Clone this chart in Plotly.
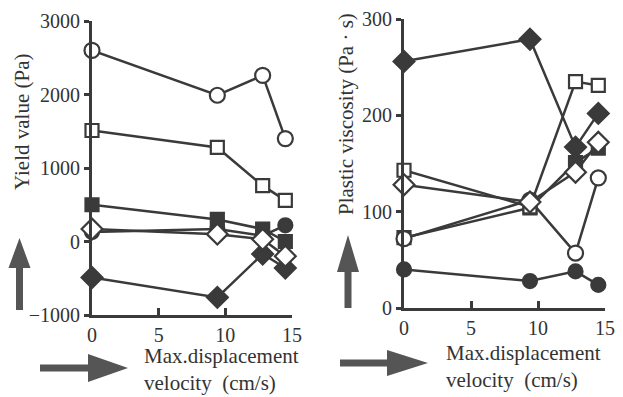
import plotly.graph_objects as go

W, H = 623, 397
OFF = 8  # page body margin

# ---- data ----
velocity = [0, 9.4, 12.8, 14.5]

yield_open_circle = [2600, 1990, 2260, 1400]
yield_open_square = [1510, 1280, 760, 560]
yield_filled_square = [500, 300, 170, 0]
yield_open_diamond = [170, 100, 30, -200]
yield_filled_circle = [130, 170, 80, 220]
yield_filled_diamond = [-490, -760, -170, -360]

visc_filled_diamond = [256, 279, 167, 202]
visc_open_square = [143, 105, 235, 231]
visc_open_diamond = [128, 110, 141, 172]
visc_open_circle = [72, 112, 57, 135]
visc_filled_square = [73, 104, 151, 166]
visc_filled_circle = [40, 28, 38, 24]

x_ticks = [0, 5, 10, 15]
yield_ticks = [-1000, 0, 1000, 2000, 3000]
visc_ticks = [0, 100, 200, 300]

DARK = "#3a3a3a"
FONT = "Liberation Serif, Times New Roman, serif"


def px(x):
    return (x - OFF) / W


def py(y):
    return 1 - (y - OFF) / H


def series(x, y, symbol, filled, size, xa, ya):
    return go.Scatter(
        x=x, y=y, mode="lines+markers", xaxis=xa, yaxis=ya,
        line=dict(color=DARK, width=2.5),
        marker=dict(symbol=symbol, size=size,
                    color=DARK if filled else "white",
                    line=dict(color=DARK, width=2.2)),
        showlegend=False, cliponaxis=False,
    )


fig = go.Figure()
# left panel
fig.add_trace(series(velocity, yield_filled_circle, "circle", True, 14, "x", "y"))
fig.add_trace(series(velocity, yield_filled_diamond, "diamond", True, 16, "x", "y"))
fig.add_trace(series(velocity, yield_filled_square, "square", True, 13, "x", "y"))
fig.add_trace(series(velocity, yield_open_diamond, "diamond", False, 16, "x", "y"))
fig.add_trace(series(velocity, yield_open_square, "square", False, 13, "x", "y"))
fig.add_trace(series(velocity, yield_open_circle, "circle", False, 15, "x", "y"))
# right panel
fig.add_trace(series(velocity, visc_filled_circle, "circle", True, 14, "x2", "y2"))
fig.add_trace(series(velocity, visc_filled_square, "square", True, 13, "x2", "y2"))
fig.add_trace(series(velocity, visc_filled_diamond, "diamond", True, 16, "x2", "y2"))
fig.add_trace(series(velocity, visc_open_square, "square", False, 13, "x2", "y2"))
fig.add_trace(series(velocity, visc_open_circle, "circle", False, 15, "x2", "y2"))
fig.add_trace(series(velocity, visc_open_diamond, "diamond", False, 16, "x2", "y2"))

tfont = dict(family=FONT, size=20, color="#333")
xax = dict(range=[0, 15], tickvals=x_ticks, showgrid=False, zeroline=False,
           showline=True, linecolor=DARK, linewidth=3, ticks="inside",
           ticklen=7, tickwidth=3, tickcolor=DARK, automargin=False,
           ticklabeloverflow="allow", tickfont=tfont)
yax = dict(showgrid=False, zeroline=False, showline=True, linecolor=DARK,
           linewidth=3, ticks="outside", ticklen=5, tickwidth=3, tickcolor=DARK,
           automargin=False, ticklabeloverflow="allow", tickfont=tfont)

fig.update_layout(
    width=W, height=H, margin=dict(l=0, r=0, t=0, b=0),
    font=dict(family=FONT, color="#333"),
    paper_bgcolor="white", plot_bgcolor="white",
    xaxis=dict(xax, domain=[px(92), px(292)], anchor="y"),
    yaxis=dict(yax, domain=[py(315), py(21)], range=[-1000, 3000],
               tickvals=yield_ticks, anchor="x"),
    xaxis2=dict(xax, domain=[px(404), px(605)], anchor="y2"),
    yaxis2=dict(yax, domain=[py(308), py(19)], range=[0, 300],
                tickvals=visc_ticks, anchor="x2"),
)

ann_font = dict(family=FONT, size=21, color="#333")
annotations = [
    dict(x=px(22), y=py(122), text="Yield value (Pa)", textangle=-90,
         xanchor="center", yanchor="middle"),
    dict(x=px(346), y=py(114), text="Plastic viscosity (Pa · s)", textangle=-90,
         xanchor="center", yanchor="middle"),
    dict(x=px(142), y=py(356), text="Max.displacement", xanchor="left", yanchor="middle"),
    dict(x=px(142), y=py(383), text="velocity  (cm/s)", xanchor="left", yanchor="middle"),
    dict(x=px(444), y=py(353), text="Max.displacement", xanchor="left", yanchor="middle"),
    dict(x=px(444), y=py(380), text="velocity  (cm/s)", xanchor="left", yanchor="middle"),
]
for a in annotations:
    a.update(xref="paper", yref="paper", showarrow=False, font=ann_font)
fig.update_layout(annotations=annotations)


def up_arrow(cx, tip, base, bottom, hw, sw):
    return [(cx, tip), (cx + hw, base), (cx + sw, base), (cx + sw, bottom),
            (cx - sw, bottom), (cx - sw, base), (cx - hw, base)]


def right_arrow(cy, left, base, tip, hh, sw):
    return [(left, cy - sw), (base, cy - sw), (base, cy - hh), (tip, cy),
            (base, cy + hh), (base, cy + sw), (left, cy + sw)]


def path(pts):
    return "M " + " L ".join(f"{px(x):.5f},{py(y):.5f}" for x, y in pts) + " Z"


arrows = [
    up_arrow(19.5, 238, 268, 310, 11, 3.5),
    up_arrow(348, 235, 272, 308, 11, 3.5),
    right_arrow(368, 40, 88, 128, 14, 3.5),
    right_arrow(363, 340, 387, 428, 13, 3.5),
]
fig.update_layout(shapes=[
    dict(type="path", xref="paper", yref="paper", path=path(p),
         fillcolor="#555", line=dict(width=0)) for p in arrows
])

fig.write_html("out.html")
